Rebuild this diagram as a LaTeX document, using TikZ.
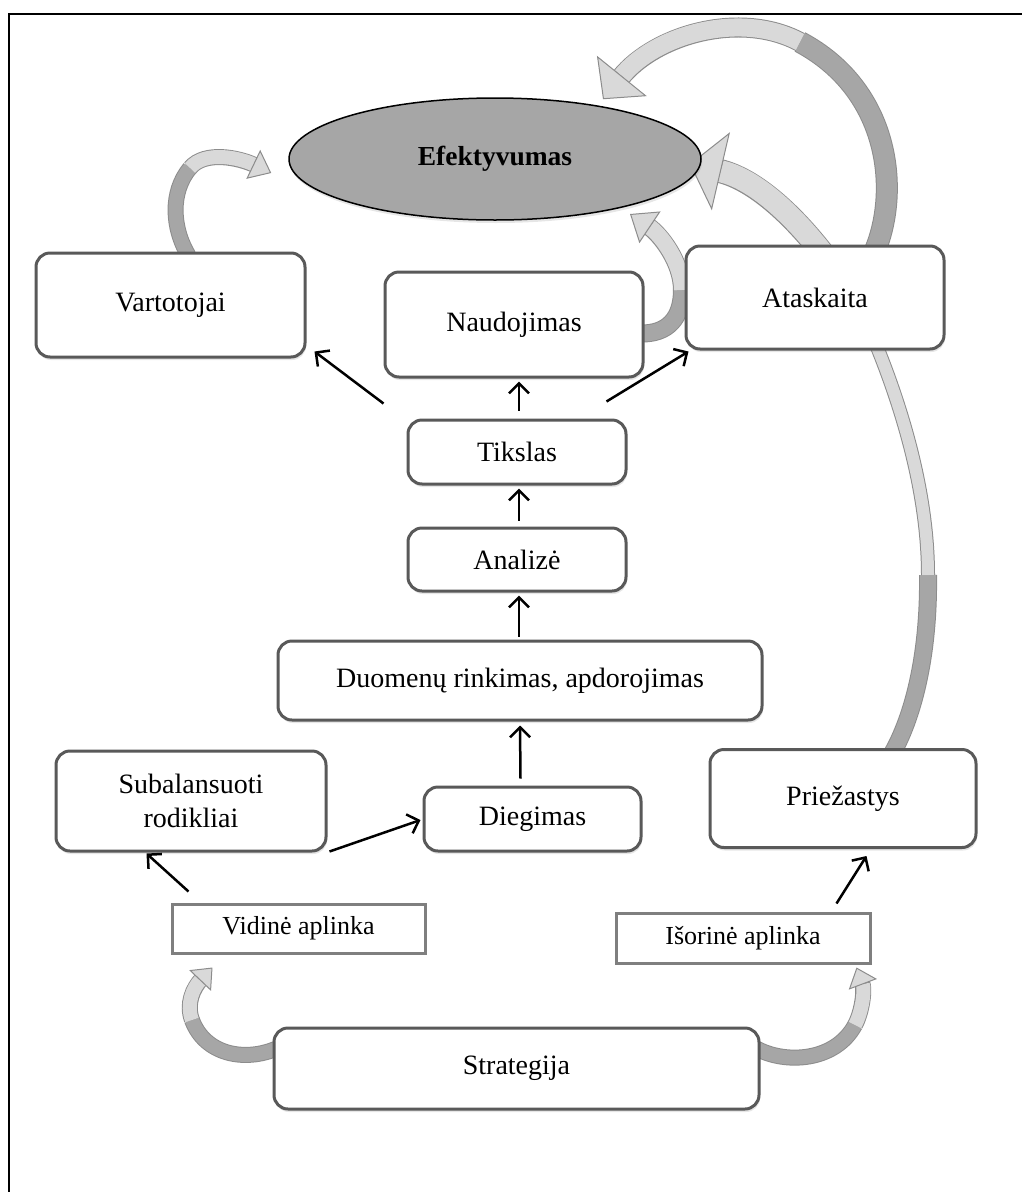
\documentclass[tikz,border=0pt]{standalone}
\usepackage{fontspec}
\setmainfont{Liberation Serif}
\usepackage{tikz}
\usetikzlibrary{arrows.meta,calc,shapes.geometric,shadows,backgrounds}
\definecolor{ovalgray}{HTML}{A6A6A6}
\definecolor{boxedge}{HTML}{595959}
\definecolor{envedge}{HTML}{7F7F7F}
\definecolor{bandlight}{HTML}{D9D9D9}
\definecolor{banddark}{HTML}{A6A6A6}
\definecolor{bandedge}{HTML}{8C8C8C}
\tikzset{
  box/.style={draw=boxedge, line width=3pt, rounded corners=14pt, fill=white, align=center, inner sep=0pt,
    font=\fontsize{28}{34}\selectfont, drop shadow={shadow xshift=1pt, shadow yshift=-3pt, opacity=0.2}},
  envbox/.style={draw=envedge, line width=3pt, fill=white, inner sep=0pt,
    font=\fontsize{26}{32}\selectfont, drop shadow={shadow xshift=1pt, shadow yshift=-2pt, opacity=0.15}},
  oval/.style={ellipse, draw=black, line width=1.5pt, fill=ovalgray, inner sep=0pt,
    minimum width=412pt, minimum height=122pt, font=\fontsize{27.5}{33}\selectfont\bfseries,
    drop shadow={shadow xshift=1pt, shadow yshift=-3pt, opacity=0.2}},
  arr/.style={line width=2.5pt, -{Straight Barb[length=10pt 0 0, width=20pt 0 0]}},
  bandback/.style={draw=banddark, line width=#1, preaction={draw=bandedge, line width=#1+2pt}},
  bandfront/.style n args={3}{draw=bandlight, line width=#1,
    preaction={draw=bandedge, line width=#1+2pt, -, shorten >=#2-2pt},
    -{Triangle[length=#2 0 0, width=#3 0 0, fill=bandlight, color=bandedge, line width=1pt 0 0]}},
}

\begin{document}
\begin{tikzpicture}[x=1pt, y=-1pt]
  \useasboundingbox (0,0) rectangle (1021,1192);
  \draw[line width=2.5pt] (9,1210) |- (1040,14);

  \node[oval] (eff) at (495,159) {Efektyvumas};
  \node[box, minimum width=269pt, minimum height=104pt] (vart) at (170.5,305) {Vartotojai};
  \node[box, minimum width=258pt, minimum height=105pt] (naud) at (514,324.5) {Naudojimas};
  \node[box, minimum width=258pt, minimum height=103pt] (atask) at (815,297.5) {Ataskaita};
  \node[box, minimum width=218pt, minimum height=64pt] (tikslas) at (517,452) {Tikslas};
  \node[box, minimum width=218pt, minimum height=63pt] (analize) at (517,559.5) {Analizė};
  \node[box, minimum width=484pt, minimum height=79pt] (duom) at (520,680.5) {Duomenų rinkimas, apdorojimas};
  \node[box, minimum width=270pt, minimum height=100pt] (subal) at (191,801) {Subalansuoti\\rodikliai};
  \node[box, minimum width=217pt, minimum height=64pt] (diegimas) at (532.5,819) {Diegimas};
  \node[box, minimum width=266pt, minimum height=98pt] (priez) at (843,798.5) {Priežastys};
  \node[envbox, minimum width=253pt, minimum height=49pt] (vidine) at (298.5,928.5) {Vidinė aplinka};
  \node[envbox, minimum width=254pt, minimum height=50pt] (isorine) at (743,938) {Išorinė aplinka};
  \node[box, minimum width=485pt, minimum height=81pt] (strat) at (516.5,1068.5) {Strategija};

  \begin{scope}[on background layer]
    \coordinate (aTurn) at (190,168);
    \coordinate (bTurn) at (682,290);
    \coordinate (cTurn) at (928,575);
    \coordinate (cHide) at (870,330);
    \coordinate (dTurn) at (800,42);
    \coordinate (eTurn) at (192,1020);
    \coordinate (fTurn) at (855,1025);
    \draw[bandback=14pt] ($(vart.north)+(18,4)$) .. controls (172,228) and (170,192) .. (aTurn);
    \draw[bandfront={14pt}{20pt}{32pt}] (aTurn) .. controls (205,150) and (240,158) .. ($(eff.west)+(-17,14)$);
    \draw[bandback=16pt] ($(naud.east)+(-4,9)$) .. controls (668,334) and (682,318) .. (bTurn);
    \draw[bandfront={16pt}{24pt}{38pt}] (bTurn) .. controls (682,262) and (660,234) .. ($(eff.center)+(135,55)$);
    \draw[bandback=16pt] ($(priez.north)+(50,4)$) .. controls (915,712) and (929,650) .. (cTurn);
    \draw[draw=bandlight, line width=12pt, preaction={draw=bandedge, line width=14pt}] (cTurn) .. controls (928,490) and (900,400) .. (cHide);
    \draw[bandfront={22pt}{32pt}{80pt}] (cHide) .. controls (849,281) and (780,185) .. ($(eff.east)+(-12,5)$);
    \draw[bandback=20pt] ($(atask.north)+(60,6)$) .. controls (900,190) and (890,90) .. (dTurn);
    \draw[bandfront={18pt}{30pt}{64pt}] (dTurn) .. controls (740,10) and (655,35) .. ($(eff.north)+(108,2)$);
    \draw[bandback=14pt] ($(strat.west)+(4,-20)$) .. controls (245,1062) and (205,1055) .. (eTurn);
    \draw[bandfront={14pt}{18pt}{30pt}] (eTurn) .. controls (186,1004) and (193,988) .. ($(vidine.south west)+(42,13)$);
    \draw[bandback=14pt] ($(strat.east)+(-4,-20)$) .. controls (785,1064) and (835,1062) .. (fTurn);
    \draw[bandfront={14pt}{18pt}{30pt}] (fTurn) .. controls (862,1012) and (865,990) .. ($(isorine.south east)+(-15,3)$);
  \end{scope}

  \draw[arr] ($(tikslas.north west)+(-23,-15)$) -- ($(vart.south east)+(8,-7)$);
  \draw[arr] ($(tikslas.north)+(2,-8)$) -- ($(naud.south)+(5,3)$);
  \draw[arr] ($(tikslas.north east)+(-21,-17)$) -- ($(atask.south west)+(4,1)$);
  \draw[arr] ($(analize.north)+(2,-6)$) -- ($(tikslas.south)+(2,3)$);
  \draw[arr] ($(duom.north)+(-1,-3)$) -- ($(analize.south)+(2,3)$);
  \draw[arr] ($(diegimas.north)+(-12,-7)$) -- ($(duom.south)+(0,4)$);
  \draw[arr] ($(subal.south east)+(2,-1)$) -- ($(diegimas.west)+(-2,1)$);
  \draw[arr] ($(vidine.north west)+(18,-11)$) -- ($(subal.south west)+(92,1)$);
  \draw[arr] ($(isorine.north east)+(-35,-8)$) -- ($(priez.south west)+(158,7)$);
\end{tikzpicture}
\end{document}
